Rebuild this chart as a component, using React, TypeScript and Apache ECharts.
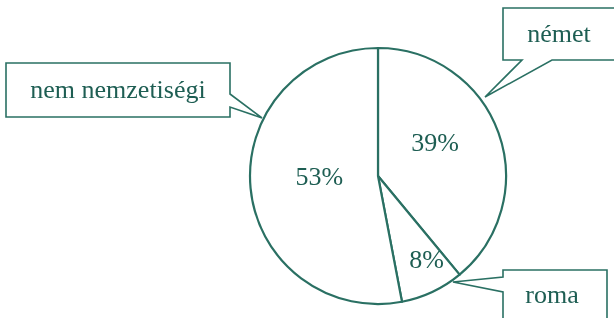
import React, { useEffect, useRef } from "react";
import * as echarts from "echarts";

const categories = ["német", "roma", "nem nemzetiségi"];
const values = [39, 8, 53];

// label nudges (layout only)
const labelShift = [
  { dx: -6, dy: -11 },
  { dx: 20, dy: 23 },
  { dx: 8, dy: -6 },
];

export default function App() {
  const ref = useRef<HTMLDivElement>(null);
  useEffect(() => {
    if (!ref.current) return;
    const chart = echarts.init(ref.current, undefined, { renderer: "svg" });
    const line = "#2a7063";
    const ink = "#1e5e53";
    const box = { fill: "#ffffff", stroke: line, lineWidth: 1.6 };
    chart.setOption({
      animation: false,
      series: [
        {
          type: "pie",
          center: [378, 176],
          radius: 128,
          startAngle: 90,
          clockwise: true,
          itemStyle: { color: "#ffffff", borderColor: line, borderWidth: 2.2 },
          emphasis: { disabled: true },
          label: { show: true, position: "inside", formatter: "{c}%", fontFamily: "Liberation Serif", fontSize: 26, color: ink },
          labelLine: { show: false },
          labelLayout: (p: any) => labelShift[p.dataIndex] || {},
          data: categories.map((name, i) => ({ name, value: values[i] })),
        },
      ],
      graphic: [
        { type: "polygon", shape: { points: [[6, 63], [230, 63], [230, 94], [262, 118], [230, 107], [230, 117], [6, 117]] }, style: box },
        { type: "text", x: 118, y: 89, style: { text: categories[2], fontFamily: "Liberation Serif", fontSize: 26, fill: ink, align: "center", verticalAlign: "middle" } },
        { type: "polygon", shape: { points: [[503, 8], [620, 8], [620, 60], [552, 60], [485, 97], [522, 60], [503, 60]] }, style: box },
        { type: "text", x: 559, y: 33, style: { text: categories[0], fontFamily: "Liberation Serif", fontSize: 26, fill: ink, align: "center", verticalAlign: "middle" } },
        { type: "polygon", shape: { points: [[503, 270], [607, 270], [607, 330], [503, 330], [503, 292], [453, 282], [503, 277]] }, style: box },
        { type: "text", x: 552, y: 294, style: { text: categories[1], fontFamily: "Liberation Serif", fontSize: 26, fill: ink, align: "center", verticalAlign: "middle" } },
      ],
    });
    return () => chart.dispose();
  }, []);
  return <div ref={ref} style={{ position: "fixed", left: 0, top: 0, width: 614, height: 318 }} />;
}
